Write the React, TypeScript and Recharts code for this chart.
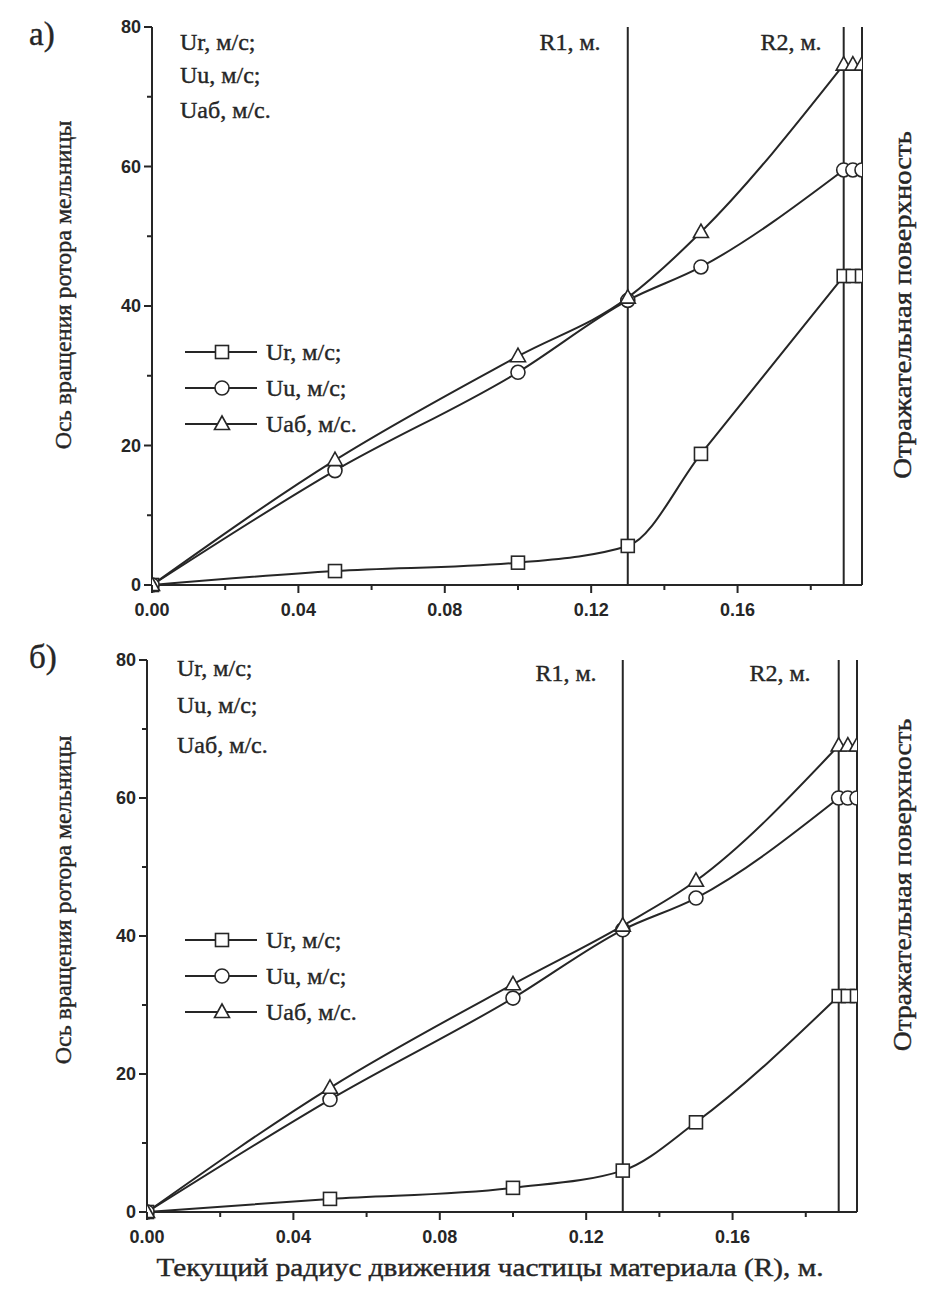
import React from "react";
import { Line, LineChart, ReferenceLine, XAxis, YAxis } from "recharts";

// radius points of the measured curves, plus the marks drawn on the reflecting wall
const radius = [0, 0.05, 0.1, 0.13, 0.15, 0.189];
const wallRadius = [0.1915, 0.194];

const urA = [0, 2.0, 3.2, 5.6, 18.8, 44.3];
const uuA = [0, 16.4, 30.5, 40.8, 45.6, 59.5];
const uabA = [0, 17.9, 32.8, 41.2, 50.6, 74.6];

const urB = [0, 1.9, 3.5, 6.0, 13.0, 31.3];
const uuB = [0, 16.3, 31.0, 40.9, 45.5, 60.0];
const uabB = [0, 18.0, 33.0, 41.5, 48.0, 67.6];

const xTicks = [0, 0.02, 0.04, 0.06, 0.08, 0.1, 0.12, 0.14, 0.16, 0.18];
const yTicks = [0, 10, 20, 30, 40, 50, 60, 70, 80];
const seriesNames = ["Ur, м/с;", "Uu, м/с;", "Uaб, м/с."];
const R1 = 0.13;
const R2 = 0.189;
const X_MAX = 0.194;

const INK = "#262626";
const SERIF = "'Liberation Serif', 'DejaVu Serif', serif";
const SANS = "'Liberation Sans', Arial, sans-serif";

type Kind = "square" | "circle" | "triangle";
const kinds: Kind[] = ["square", "circle", "triangle"];
const keys = ["ur", "uu", "uab"];

function Marker({ kind, cx, cy }: { kind: Kind; cx: number; cy: number }) {
  if (cx == null || cy == null) return null;
  if (kind === "square")
    return <rect x={cx - 6.5} y={cy - 6.5} width={13} height={13} fill="#fff" stroke={INK} strokeWidth={1.6} />;
  if (kind === "circle")
    return <circle cx={cx} cy={cy} r={7} fill="#fff" stroke={INK} strokeWidth={1.6} />;
  return (
    <polygon
      points={`${cx},${cy - 8} ${cx - 7.5},${cy + 5.5} ${cx + 7.5},${cy + 5.5}`}
      fill="#fff"
      stroke={INK}
      strokeWidth={1.6}
    />
  );
}

const dotFor = (kind: Kind, tag: string) => (p: any) => {
  if (p.value == null) return <g key={`${tag}-${p.index}`} />;
  return <Marker key={`${tag}-${p.index}`} kind={kind} cx={p.cx} cy={p.cy} />;
};

function XTick({ x, y, payload }: any) {
  const v = payload.value;
  const major = Math.round(v * 100) % 4 === 0;
  return (
    <g>
      <line x1={x} x2={x} y1={y} y2={y + (major ? 8 : 5)} stroke={INK} strokeWidth={2} />
      {major && (
        <text x={x} y={y + 31} textAnchor="middle" fontFamily={SANS} fontSize={18} fontWeight={600} fill={INK}>
          {v.toFixed(2)}
        </text>
      )}
    </g>
  );
}

function YTick({ x, y, payload }: any) {
  const v = payload.value;
  const major = v % 20 === 0;
  return (
    <g>
      <line x1={x - (major ? 8 : 5)} x2={x} y1={y} y2={y} stroke={INK} strokeWidth={2} />
      {major && (
        <text x={x - 11} y={y + 6} textAnchor="end" fontFamily={SANS} fontSize={18} fontWeight={600} fill={INK}>
          {v}
        </text>
      )}
    </g>
  );
}

function LegendBox({ left, top }: { left: number; top: number }) {
  return (
    <div style={{ position: "absolute", left, top }}>
      {seriesNames.map((name, i) => (
        <div key={name} style={{ display: "flex", alignItems: "center", height: 36 }}>
          <svg width={78} height={20}>
            <line x1={2} x2={74} y1={10} y2={10} stroke={INK} strokeWidth={2} />
            <Marker kind={kinds[i]} cx={39} cy={10} />
          </svg>
          <span
            style={{
              fontFamily: SERIF,
              fontSize: 24,
              color: INK,
              marginLeft: 5,
              WebkitTextStroke: "0.4px " + INK,
            }}
          >
            {name}
          </span>
        </div>
      ))}
    </div>
  );
}

type PanelProps = {
  ur: number[];
  uu: number[];
  uab: number[];
  top: number;
  margin: { top: number; right: number; bottom: number; left: number };
  yAxisWidth: number;
  legendTop: number;
};

function Panel({ ur, uu, uab, top, margin, yAxisWidth, legendTop }: PanelProps) {
  const main = radius.map((r, i) => ({ r, ur: ur[i], uu: uu[i], uab: uab[i] }));
  const last = radius.length - 1;
  const wall = wallRadius.map((r) => ({
    r,
    urWall: ur[last],
    uuWall: uu[last],
    uabWall: uab[last],
  }));
  const data = [...main, ...wall];
  return (
    <div style={{ position: "absolute", left: 0, top, width: 925, height: 640 }}>
      <LineChart width={925} height={640} data={data} margin={margin}>
        <XAxis
          dataKey="r"
          type="number"
          domain={[0, X_MAX]}
          ticks={xTicks}
          interval={0}
          tick={<XTick />}
          tickLine={false}
          tickSize={0}
          tickMargin={0}
          height={40}
          stroke={INK}
          strokeWidth={2}
          allowDataOverflow
        />
        <YAxis
          type="number"
          domain={[0, 80]}
          ticks={yTicks}
          interval={0}
          tick={<YTick />}
          tickLine={false}
          tickSize={0}
          tickMargin={0}
          width={yAxisWidth}
          stroke={INK}
          strokeWidth={2}
        />
        <ReferenceLine x={R1} stroke={INK} strokeWidth={2} />
        <ReferenceLine x={R2} stroke={INK} strokeWidth={2} />
        <ReferenceLine x={X_MAX} stroke={INK} strokeWidth={2} />
        {keys.map((k, i) => (
          <Line
            key={k}
            dataKey={k}
            name={seriesNames[i]}
            type="monotone"
            stroke={INK}
            strokeWidth={2}
            dot={dotFor(kinds[i], k)}
            activeDot={false}
            isAnimationActive={false}
          />
        ))}
        {keys.map((k, i) => (
          <Line
            key={k + "Wall"}
            dataKey={k + "Wall"}
            type="linear"
            stroke={INK}
            strokeWidth={2}
            dot={dotFor(kinds[i], k + "Wall")}
            activeDot={false}
            legendType="none"
            isAnimationActive={false}
          />
        ))}
      </LineChart>
      <LegendBox left={183} top={legendTop} />
    </div>
  );
}

function Texts() {
  const t = { fontFamily: SERIF, fill: INK, stroke: INK, strokeWidth: 0.4 } as const;
  return (
    <svg width={925} height={1291} style={{ position: "absolute", left: 0, top: 0, pointerEvents: "none" }}>
      <text x={29} y={45} fontSize={33} {...t}>а)</text>
      <text x={29} y={668} fontSize={33} {...t}>б)</text>

      {seriesNames.map((n, i) => (
        <text key={"a" + n} x={180} y={[50, 83, 118][i]} fontSize={24} {...t}>{n}</text>
      ))}
      {seriesNames.map((n, i) => (
        <text key={"b" + n} x={177} y={[676, 713, 753][i]} fontSize={24} {...t}>{n}</text>
      ))}

      <text x={570} y={50} fontSize={24} textAnchor="middle" {...t}>R1, м.</text>
      <text x={791} y={50} fontSize={24} textAnchor="middle" {...t}>R2, м.</text>
      <text x={566} y={681} fontSize={24} textAnchor="middle" {...t}>R1, м.</text>
      <text x={780} y={681} fontSize={24} textAnchor="middle" {...t}>R2, м.</text>

      <text transform="translate(71,285) rotate(-90)" fontSize={24} textAnchor="middle" {...t}>
        Ось вращения ротора мельницы
      </text>
      <text transform="translate(71,900) rotate(-90)" fontSize={24} textAnchor="middle" {...t}>
        Ось вращения ротора мельницы
      </text>
      <text transform="translate(911,305) rotate(-90) scale(1.15,1)" fontSize={25} textAnchor="middle" {...t}>
        Отражательная поверхность
      </text>
      <text transform="translate(911,885) rotate(-90) scale(1.1,1)" fontSize={25} textAnchor="middle" {...t}>
        Отражательная поверхность
      </text>

      <text transform="translate(490,1276) scale(1.17,1)" fontSize={25} textAnchor="middle" {...t}>
        Текущий радиус движения частицы материала (R), м.
      </text>
    </svg>
  );
}

export default function App() {
  return (
    <div style={{ position: "relative", width: 925, height: 1291, margin: -8, background: "#fff" }}>
      <Panel
        ur={urA}
        uu={uuA}
        uab={uabA}
        top={0}
        margin={{ top: 27, right: 63, bottom: 15, left: 0 }}
        yAxisWidth={152}
        legendTop={334}
      />
      <Panel
        ur={urB}
        uu={uuB}
        uab={uabB}
        top={630}
        margin={{ top: 30, right: 68, bottom: 18, left: 0 }}
        yAxisWidth={147}
        legendTop={292}
      />
      <Texts />
    </div>
  );
}
